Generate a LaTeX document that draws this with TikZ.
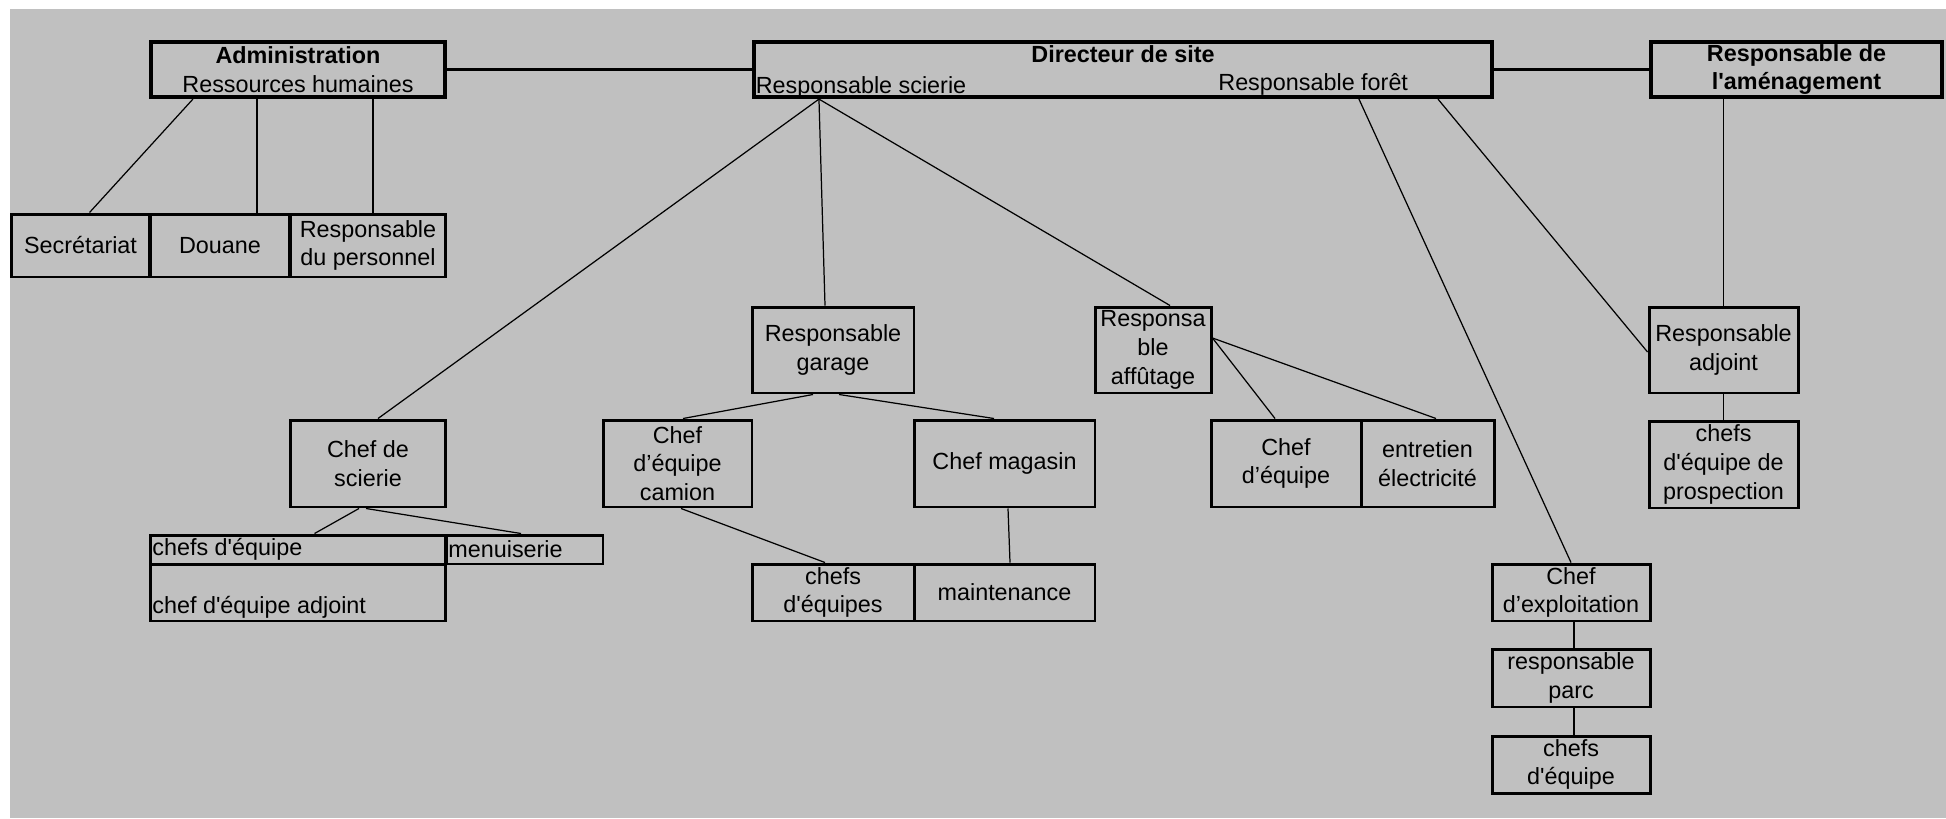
\documentclass[tikz,border=0pt]{standalone}
\usepackage{fontspec}
\setmainfont{Liberation Sans}
\usetikzlibrary{calc}

\definecolor{fond}{HTML}{C0C0C0}
% straight apostrophe (the TeX mapping would curl it)
\newcommand{\apos}{\XeTeXglyph\XeTeXglyphindex "quotesingle"\relax}

\tikzset{
	headbox/.style={draw, line width=2.4pt, inner sep=1pt, align=center},
	unitbox/.style={draw, line width=1.7pt, inner sep=1pt, align=center},
	link/.style={line width=0.7pt},
	toplink/.style={line width=1.4pt},
}

\begin{document}
\begin{tikzpicture}[x=0.02cm, y=-0.02cm, font=\fontsize{13.3}{16.3}\selectfont]

	% background
	\useasboundingbox (0,0) rectangle (1946,818);
	\fill[fond] (10,9) rectangle (1946,818);

	% first row
	\node[headbox, minimum width=5.88cm, minimum height=1.10cm] (adm) at (298,69.5)
		{\textbf{Administration}\\Ressources humaines};
	\node[headbox, minimum width=14.76cm, minimum height=1.10cm] (dir) at (1123,69.5) {};
	\node[anchor=north, inner sep=3pt, font=\fontsize{13.3}{16.3}\selectfont\bfseries] (dirt) at (dir.north) {Directeur de site};
	\node[anchor=south west, inner xsep=2pt, inner ysep=0.5pt] (sci) at (dir.south west) {Responsable scierie};
	\node[anchor=south west, inner xsep=2pt, inner ysep=0.5pt] (foret) at (1214.5,97) {Responsable forêt};
	\node[headbox, minimum width=5.82cm, minimum height=1.10cm, font=\fontsize{13.3}{16.3}\selectfont\bfseries] (amen) at (1796.5,69.5)
		{Responsable de\\l\apos aménagement};

	% administration
	\node[unitbox, minimum width=2.78cm, minimum height=1.26cm] (secr) at (80.5,245.5) {Secrétariat};
	\node[unitbox, minimum width=2.80cm, minimum height=1.26cm] (douane) at (220,245.5) {Douane};
	\node[unitbox, minimum width=3.12cm, minimum height=1.26cm] (perso) at (368,245.5) {Responsable\\du personnel};

	% second row
	\node[unitbox, minimum width=3.24cm, minimum height=1.72cm] (garage) at (833,350) {Responsable\\garage};
	\node[unitbox, minimum width=2.32cm, minimum height=1.72cm] (affut) at (1153,350) {Responsa\\ble\\affûtage};
	\node[unitbox, minimum width=2.98cm, minimum height=1.72cm] (adjoint) at (1723.5,350) {Responsable\\adjoint};

	% third row
	\node[unitbox, minimum width=3.12cm, minimum height=1.74cm] (chefsci) at (368,463.5) {Chef de\\scierie};
	\node[unitbox, minimum width=2.98cm, minimum height=1.74cm] (camion) at (677.5,463.5) {Chef\\d’équipe\\camion};
	\node[unitbox, minimum width=3.62cm, minimum height=1.74cm] (magasin) at (1004.5,463.5) {Chef magasin};
	\node[unitbox, minimum width=3.00cm, minimum height=1.74cm] (cheq) at (1286,463.5) {Chef\\d’équipe};
	\node[unitbox, minimum width=2.66cm, minimum height=1.74cm] (entret) at (1427.5,463.5) {entretien\\électricité};
	\node[unitbox, minimum width=2.98cm, minimum height=1.74cm] (prosp) at (1723.5,464.5) {chefs\\d\apos équipe de\\prospection};

	% fourth row and below
	\node[unitbox, minimum width=5.92cm, minimum height=0.58cm,
		label={[anchor=west, inner sep=2pt]west:chefs d\apos équipe}] (eqsci) at (298,549.5) {};
	\node[unitbox, minimum width=3.14cm, minimum height=0.58cm,
		label={[anchor=west, inner sep=2pt]west:menuiserie}] (menuis) at (524.5,549.5) {};
	\node[unitbox, minimum width=5.92cm, minimum height=1.14cm,
		label={[anchor=south west, inner sep=2pt]south west:chef d\apos équipe adjoint}] (adjsci) at (298,592.5) {};
	\node[unitbox, minimum width=3.24cm, minimum height=1.14cm] (eqgar) at (833,592.5) {chefs\\d\apos équipes};
	\node[unitbox, minimum width=3.62cm, minimum height=1.14cm] (maint) at (1004.5,592.5) {maintenance};
	\node[unitbox, minimum width=3.16cm, minimum height=1.14cm] (expl) at (1571,592.5) {Chef\\d’exploitation};
	\node[unitbox, minimum width=3.16cm, minimum height=1.16cm] (parc) at (1571,678) {responsable\\parc};
	\node[unitbox, minimum width=3.16cm, minimum height=1.14cm] (eqparc) at (1571,764.5) {chefs\\d\apos équipe};

	% links between the heads
	\draw[toplink] (adm.east) -- (dir.west);
	\draw[toplink] (dir.east) -- (amen.west);

	% administration links
	\draw[link] ($(adm.south west)+(44,0)$) -- ($(secr.north west)+(80,0)$);
	\draw[link] ($(adm.south west)+(108,0)$) coordinate (admd) -- (admd |- douane.north);
	\draw[link] ($(adm.south west)+(224,0)$) coordinate (admp) -- (admp |- perso.north);

	% scierie
	\coordinate (scipt) at ($(sci.south west)+(67,0)$);
	\draw[link] (scipt) -- ($(chefsci.north)+(10,0)$);
	\draw[link] (scipt) -- ($(garage.north)+(-8,0)$);
	\draw[link] (scipt) -- ($(affut.north)+(17,0)$);
	\draw[link] ($(chefsci.south)+(-9,0)$) -- ($(eqsci.north west)+(166,0)$);
	\draw[link] ($(chefsci.south)+(-2,0)$) -- ($(menuis.north)+(-3.5,0)$);

	% garage
	\draw[link] ($(garage.south)+(-20,0)$) -- ($(camion.north)+(5.5,0)$);
	\draw[link] ($(garage.south)+(6,0)$) -- ($(magasin.north)+(-10.5,0)$);
	\draw[link] ($(camion.south)+(3.5,0)$) -- ($(eqgar.north)+(-8,0)$);
	\draw[link] ($(magasin.south)+(3.5,0)$) -- ($(maint.north)+(5.5,0)$);

	% affutage
	\coordinate (affpt) at ($(affut.east)+(0,-12)$);
	\draw[link] (affpt) -- ($(cheq.north)+(-11,0)$);
	\draw[link] (affpt) -- ($(entret.north)+(8.5,0)$);

	% foret and amenagement
	\draw[link] ($(foret.south west)+(143.5,0)$) -- (expl.north);
	\draw[link] ($(expl.south)+(3,0)$) -- ($(parc.north)+(3,0)$);
	\draw[link] ($(parc.south)+(3,0)$) -- ($(eqparc.north)+(3,0)$);
	\draw[link] ($(dir.south west)+(686,0)$) -- ($(adjoint.west)+(0,2)$);
	\draw[link] (adjoint.north) -- (adjoint.north |- amen.south);
	\draw[link] (adjoint.south) -- (prosp.north);

\end{tikzpicture}
\end{document}
